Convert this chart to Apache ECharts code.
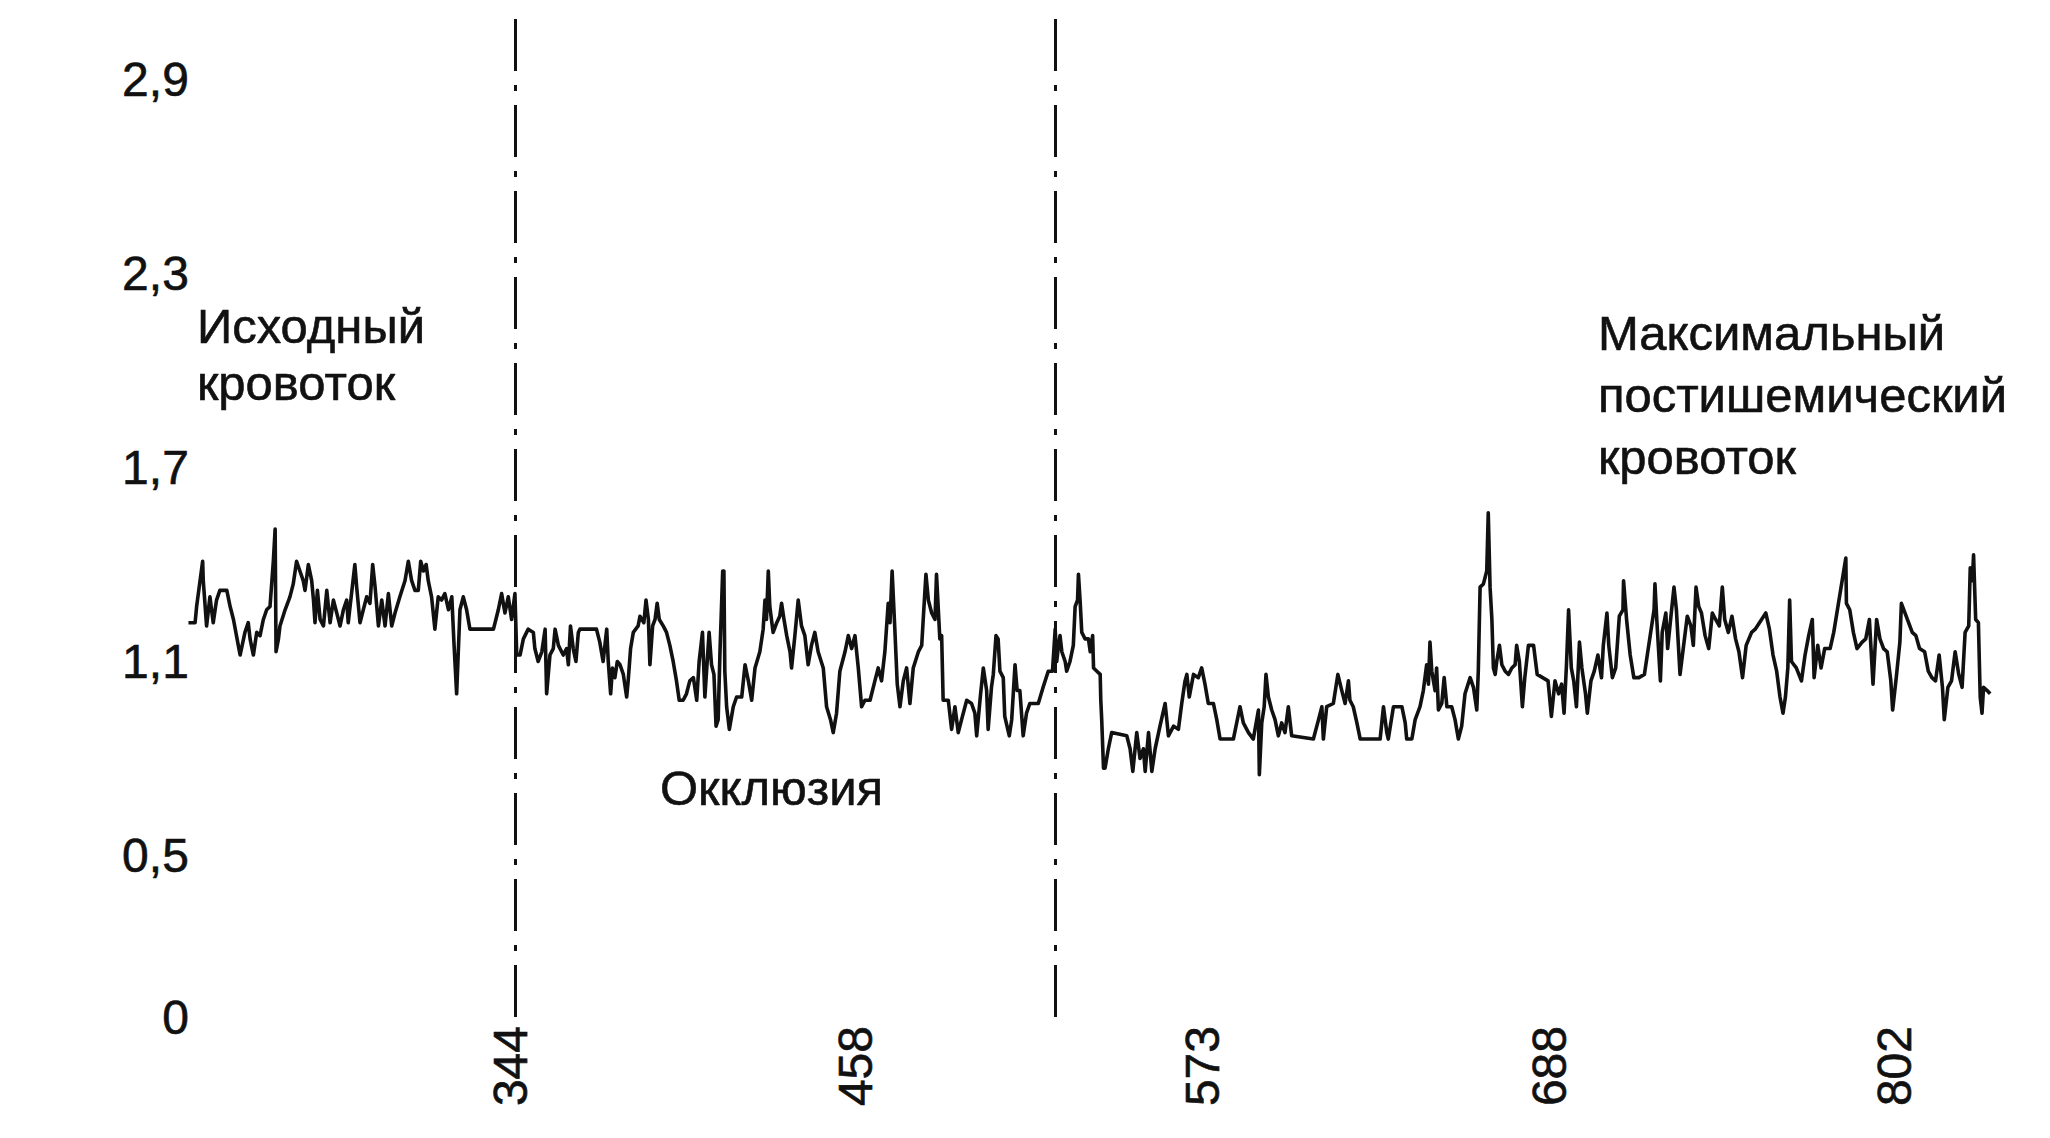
<!DOCTYPE html>
<html><head><meta charset="utf-8">
<script src="https://cdn.jsdelivr.net/npm/echarts@6/dist/echarts.min.js"></script>
<style>html,body{margin:0;padding:0;background:#fff}#chart{width:2050px;height:1138px}</style>
</head><body><div id="chart"></div>
<script>
// time, s
const timeSec = [
237.2,239.4,239.9,241.9,242.1,243.2,244.3,245.4,246.5,247.6,
249.9,251.0,252.1,253.7,254.3,255.9,257.0,257.6,258.7,259.8,
260.9,262.0,263.1,264.2,265.3,265.9,266.2,267.0,267.5,269.2,
270.8,271.9,273.0,274.1,275.2,275.8,276.9,278.0,278.6,279.1,
279.9,280.8,281.9,283.0,284.1,285.2,286.3,287.4,288.5,289.6,
290.1,291.2,292.3,292.9,294.0,295.1,296.2,297.3,298.2,299.0,
300.1,301.2,302.3,303.4,304.5,305.6,307.2,308.9,310.0,311.1,
312.2,313.3,314.1,315.0,315.9,316.6,317.7,318.8,319.9,321.0,
322.1,323.3,324.4,325.1,326.0,327.1,328.2,329.3,330.4,338.2,
339.8,340.9,342.0,343.1,344.2,345.3,345.9,347.0,348.1,349.7,
351.4,351.9,353.0,354.2,355.3,355.8,356.9,358.0,358.6,359.7,
361.3,362.4,363.0,363.7,364.6,365.5,366.3,366.8,372.3,373.4,
374.5,375.7,376.2,377.0,377.6,378.4,379.2,380.1,381.2,382.3,
382.8,383.6,384.5,386.1,386.7,388.0,388.7,389.5,390.0,390.9,
391.7,392.4,393.1,394.4,395.5,396.6,397.7,398.8,399.7,401.0,
402.1,403.2,404.4,405.5,406.3,407.4,408.2,409.6,410.4,411.2,
411.9,412.6,413.2,414.1,414.5,414.8,415.4,416.3,417.6,418.7,
420.4,421.5,422.6,423.7,424.8,426.4,427.5,428.1,428.6,429.2,
429.7,430.8,432.0,433.0,433.6,434.4,435.3,436.4,436.9,438.0,
439.1,440.2,441.3,442.4,443.5,444.6,445.7,447.4,448.5,449.8,
450.7,451.8,452.9,454.6,455.7,456.8,457.9,459.0,460.1,461.2,
462.9,464.5,465.6,466.7,467.8,468.9,469.5,470.2,471.1,471.9,
472.8,473.9,475.0,476.1,477.2,478.9,480.0,480.5,481.4,482.2,
483.3,484.4,484.9,486.0,486.6,487.1,488.8,489.9,491.0,492.1,
493.2,494.9,496.5,497.6,498.2,499.5,500.4,501.5,502.0,503.1,
503.7,504.6,505.3,505.9,507.0,507.5,509.0,509.8,510.9,511.6,
512.5,513.6,514.7,515.8,518.6,520.2,521.9,523.3,
524.2,524.7,525.3,525.8,526.4,527.5,528.0,529.1,530.2,530.8,
531.6,531.9,532.5,533.0,534.1,535.2,535.8,536.6,536.9,538.0,
539.1,539.3,539.6,540.2,540.7,541.8,542.9,547.9,549.0,549.9,
551.2,552.3,553.4,554.0,555.1,556.2,557.3,558.9,560.6,561.7,
563.4,565.0,566.1,567.2,567.8,568.6,570.0,571.6,572.7,573.8,
574.9,576.6,577.7,578.8,583.2,584.3,585.4,586.5,588.2,589.8,
591.5,591.8,592.6,593.4,594.0,594.8,595.9,597.0,598.1,599.2,
600.3,601.4,602.5,609.7,611.4,612.5,613.0,614.1,616.3,617.8,
619.1,620.2,621.3,621.8,622.9,624.1,625.2,631.8,632.9,634.0,
634.5,636.2,639.0,640.1,640.6,642.3,643.4,645.0,646.1,647.2,
647.8,648.3,648.9,650.0,650.5,651.1,652.2,653.0,653.9,655.5,
656.6,657.7,658.8,659.9,661.6,662.7,663.8,664.3,664.9,666.0,
667.1,667.6,668.2,668.8,669.3,669.9,670.4,671.3,672.1,673.2,
674.3,675.4,676.5,677.0,677.9,
678.9,679.7,680.9,682.6,683.8,685.6,687.4,688.5,689.7,690.9,
691.9,692.7,693.5,694.2,695.1,695.9,696.8,697.8,698.6,699.8,
700.4,701.6,702.7,703.9,705.1,705.7,706.9,707.5,708.7,709.8,
711.0,712.2,712.4,713.4,714.6,715.8,717.5,719.3,722.5,722.8,
723.4,724.6,725.2,726.4,727.0,728.2,729.1,729.9,731.1,732.3,
733.5,734.7,735.5,736.4,737.3,738.2,739.4,740.6,741.8,742.9,
744.1,745.1,745.9,747.1,748.3,749.5,750.6,751.8,753.0,754.8,
756.0,759.5,760.7,761.9,763.1,764.2,765.2,766.0,766.8,767.4,
768.0,769.6,771.3,772.5,773.7,774.9,775.5,776.7,777.8,779.0,
780.8,782.0,786.0,786.2,787.3,788.5,789.7,791.4,792.6,793.8,
795.0,796.2,797.3,798.5,799.7,800.9,801.5,802.7,803.9,804.4,
808.0,809.2,810.4,812.1,813.3,814.5,815.7,816.9,818.0,818.6,
819.8,821.0,822.2,823.4,824.5,825.5,826.7,827.2,827.9,828.3,
829.0,829.9,830.5,831.1,831.6,832.8,833.8
];
// blood flow, relative units
const flowValue = [
1.22,1.22,1.27,1.41,1.35,1.21,1.30,1.22,1.29,1.32,
1.32,1.27,1.23,1.15,1.12,1.19,1.22,1.17,1.12,1.19,
1.18,1.23,1.26,1.27,1.41,1.51,1.13,1.17,1.21,1.26,
1.30,1.34,1.41,1.38,1.35,1.32,1.40,1.35,1.29,1.22,
1.32,1.23,1.21,1.32,1.22,1.29,1.25,1.21,1.26,1.29,
1.22,1.31,1.40,1.33,1.22,1.26,1.30,1.28,1.40,1.33,
1.21,1.29,1.21,1.31,1.21,1.25,1.30,1.35,1.41,1.35,
1.32,1.32,1.41,1.38,1.40,1.35,1.30,1.20,1.30,1.29,
1.31,1.26,1.30,1.16,1.00,1.26,1.30,1.26,1.20,1.20,
1.26,1.31,1.25,1.30,1.23,1.31,1.12,1.12,1.17,1.20,
1.19,1.14,1.10,1.13,1.20,1.00,1.12,1.14,1.20,1.15,
1.12,1.14,1.09,1.21,1.14,1.10,1.19,1.20,1.20,1.16,
1.10,1.20,1.10,1.00,1.08,1.05,1.10,1.09,1.06,0.99,
1.04,1.14,1.19,1.21,1.24,1.22,1.29,1.23,1.09,1.21,
1.23,1.28,1.23,1.21,1.19,1.15,1.10,1.04,0.98,0.98,
1.00,1.04,1.05,0.98,1.10,1.19,0.99,1.19,1.09,1.06,
0.90,0.92,1.13,1.38,1.38,1.07,0.96,0.89,0.96,0.99,
0.99,1.09,1.04,0.98,1.08,1.13,1.20,1.29,1.23,1.38,
1.27,1.19,1.22,1.24,1.28,1.23,1.18,1.13,1.08,1.18,
1.29,1.21,1.18,1.09,1.15,1.19,1.13,1.08,0.96,0.92,
0.88,0.94,1.07,1.13,1.18,1.14,1.18,1.08,0.96,0.98,
0.98,1.04,1.08,1.04,1.13,1.28,1.22,1.38,1.20,1.03,
0.96,1.04,1.08,0.97,1.08,1.13,1.15,1.23,1.37,1.29,
1.25,1.23,1.37,1.17,1.18,0.98,0.98,0.89,0.96,0.88,
0.92,0.98,0.97,0.94,0.87,1.00,1.08,1.01,0.89,1.02,
1.06,1.18,1.17,1.07,1.05,0.93,0.87,0.92,1.09,1.01,
1.01,0.87,0.94,0.97,0.97,1.02,1.07,1.07,
1.20,1.10,1.15,1.18,1.13,1.10,1.07,1.10,1.15,1.27,
1.29,1.37,1.28,1.19,1.17,1.17,1.13,1.18,1.08,1.07,
1.06,0.98,0.92,0.77,0.77,0.83,0.88,0.87,0.83,0.76,
0.88,0.80,0.83,0.76,0.88,0.76,0.83,0.90,0.97,0.87,
0.90,0.89,0.97,1.04,1.06,0.99,1.06,1.05,1.08,1.03,
0.97,0.97,0.92,0.86,0.86,0.91,0.96,0.91,0.88,0.86,
0.95,0.75,0.91,0.96,1.06,0.99,0.95,0.92,0.87,0.91,
0.88,0.96,0.87,0.86,0.92,0.96,0.86,0.96,0.97,1.06,
1.01,0.97,1.04,0.98,0.96,0.91,0.86,0.86,0.96,0.88,
0.86,0.96,0.96,0.91,0.86,0.86,0.92,0.96,1.01,1.09,
1.03,1.16,1.07,1.01,1.08,0.95,0.97,1.05,0.96,0.96,
0.92,0.86,0.90,1.00,1.05,1.02,0.95,1.07,1.33,1.34,
1.38,1.56,1.33,1.23,1.08,1.06,1.10,1.15,1.09,1.07,
1.06,1.08,1.09,1.15,1.10,
0.96,1.05,1.15,1.15,1.06,1.05,1.04,0.93,1.04,1.00,
1.03,0.94,1.09,1.26,1.08,1.04,0.96,1.16,1.08,1.00,
0.94,1.04,1.07,1.12,1.05,1.15,1.25,1.15,1.05,1.08,
1.24,1.26,1.35,1.23,1.12,1.05,1.05,1.06,1.26,1.34,
1.23,1.04,1.19,1.25,1.14,1.25,1.33,1.26,1.06,1.15,
1.24,1.21,1.15,1.33,1.27,1.25,1.18,1.14,1.25,1.23,
1.21,1.33,1.23,1.19,1.24,1.17,1.13,1.05,1.15,1.19,
1.20,1.25,1.20,1.12,1.07,0.99,0.94,0.99,1.08,1.29,
1.10,1.08,1.04,1.12,1.18,1.23,1.05,1.15,1.08,1.14,
1.14,1.19,1.42,1.28,1.26,1.19,1.14,1.16,1.17,1.23,
1.03,1.23,1.17,1.14,1.13,1.04,0.95,1.05,1.16,1.28,
1.19,1.18,1.14,1.13,1.07,1.05,1.04,1.12,1.02,0.92,
1.02,1.04,1.13,1.06,1.02,1.19,1.21,1.39,1.35,1.43,
1.23,1.22,0.99,0.94,1.02,1.01,1.00
];
const xTickValues = [344, 458, 573, 688, 802];
const xTickLabels = ['344', '458', '573', '688', '802'];
const yTickValues = [0, 0.5, 1.1, 1.7, 2.3, 2.9];
const yTickLabels = ['0', '0,5', '1,1', '1,7', '2,3', '2,9'];
const phaseBoundaries = [345.3, 524.3];
const annotationTexts = ['Исходный\nкровоток', 'Окклюзия', 'Максимальный\nпостишемический\nкровоток'];

// ---- layout / style ----
const FONT = '"Liberation Sans", Arial, sans-serif';
const INK = '#111111';
const annotationAnchors = [[240.0, 2.05], [393.3, 0.71], [703.9, 1.925]];
const annotationLineHeights = [57, 57, 62];

const chart = echarts.init(document.getElementById('chart'), null, {renderer: 'svg', width: 2050, height: 1138});
const pairs = timeSec.map((t, i) => [t, flowValue[i]]);

chart.setOption({
  animation: false,
  backgroundColor: '#ffffff',
  grid: {left: 184.84, right: 10.9, top: 15.1, bottom: 121, containLabel: false},
  xAxis: {
    type: 'value', min: 236, max: 850,
    axisLine: {show: false}, axisTick: {show: false}, splitLine: {show: false},
    axisLabel: {
      customValues: xTickValues, rotate: 90, margin: 9,
      fontSize: 48, fontFamily: FONT, color: INK, textBorderColor: INK, textBorderWidth: 0.6,
      formatter: v => { const i = xTickValues.indexOf(v); return i >= 0 ? xTickLabels[i] : String(v); }
    }
  },
  yAxis: {
    type: 'value', min: 0, max: 3.1,
    axisLine: {show: false}, axisTick: {show: false}, splitLine: {show: false},
    axisLabel: {
      customValues: yTickValues, margin: -4,
      fontSize: 48, fontFamily: FONT, color: INK, textBorderColor: INK, textBorderWidth: 0.6,
      formatter: v => { const i = yTickValues.indexOf(v); return i >= 0 ? yTickLabels[i] : String(v).replace('.', ','); }
    }
  },
  series: [{
    type: 'line',
    data: pairs,
    showSymbol: false,
    symbol: 'none',
    lineStyle: {color: INK, width: 3.6, join: 'round'},
    z: 3,
    markLine: {
      silent: true,
      symbol: ['none', 'none'],
      label: {show: false},
      lineStyle: {color: INK, width: 3, type: [52, 14, 6, 14]},
      data: phaseBoundaries.map(t => [{coord: [t, 0]}, {coord: [t, 3.1]}])
    }
  }]
});

const graphics = annotationTexts.map((txt, i) => {
  const p = chart.convertToPixel({gridIndex: 0}, annotationAnchors[i]);
  return {
    type: 'text', x: p[0], y: p[1], z: 10,
    style: {
      text: txt, fill: INK, fontSize: 49, fontFamily: FONT,
      stroke: INK, lineWidth: 0.6,
      lineHeight: annotationLineHeights[i], textAlign: 'left', textVerticalAlign: 'middle'
    }
  };
});
chart.setOption({graphic: graphics});
</script>
</body></html>
